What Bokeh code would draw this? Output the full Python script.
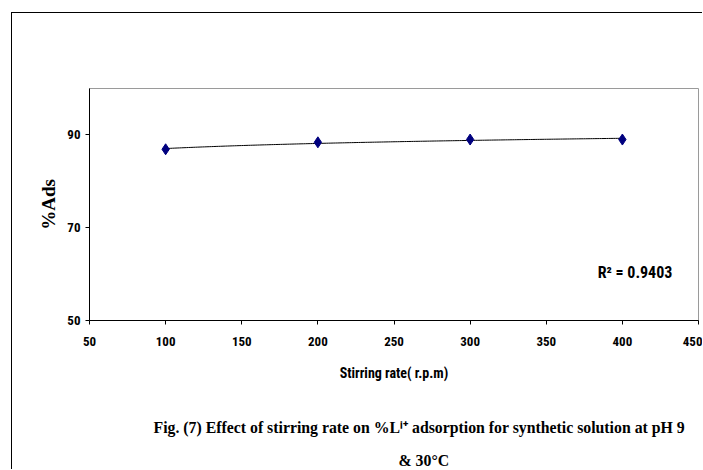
import numpy as np
from bokeh.plotting import figure
from bokeh.models import FixedTicker, Label, Title, LinearAxis
from bokeh.embed import file_html
from bokeh.resources import INLINE

# data
rpm = [100, 200, 300, 400]
ads = [86.9, 88.4, 89.0, 89.0]
x_ticks = [50, 100, 150, 200, 250, 300, 350, 400, 450]
y_ticks = [50, 70, 90]
r2_text = "R\u00b2 = 0.9403"
x_title = "Stirring rate( r.p.m)"
y_title = "%Ads"
caption1 = "Fig. (7) Effect of stirring rate  on %L\u2071\u207a adsorption for synthetic solution at pH 9"
caption2 = "& 30\u00b0C"

NARROW = "Liberation Sans Narrow, Arial Narrow, Roboto Condensed, Liberation Sans, sans-serif"
SERIF = "Liberation Serif, Times New Roman, serif"

p = figure(width=691, height=457, x_range=(50, 450), y_range=(50, 100),
           output_backend="svg", toolbar_location=None,
           min_border_left=77, min_border_right=5, min_border_top=75, min_border_bottom=148)
p.styles = {"margin-left": "11px", "margin-top": "12px",
            "border-left": "1px solid #000", "border-top": "1px solid #000"}

p.grid.visible = False
p.outline_line_color = "#9a9a9a"
p.outline_line_width = 1
p.background_fill_color = "white"
p.border_fill_color = "white"

for ax in (p.xaxis[0], p.yaxis[0]):
    ax.axis_line_color = "black"
    ax.axis_line_width = 1
    ax.major_tick_line_color = "black"
    ax.major_tick_in = 0
    ax.major_tick_out = 4
    ax.minor_tick_line_color = None
    ax.major_label_text_font = NARROW
    ax.major_label_text_font_style = "bold"
    ax.major_label_text_font_size = "13px"
    ax.major_label_text_color = "black"

p.xaxis[0].ticker = FixedTicker(ticks=x_ticks)
p.yaxis[0].ticker = FixedTicker(ticks=y_ticks)
p.xaxis[0].major_label_standoff = 12
p.yaxis[0].major_label_standoff = 5

p.xaxis[0].axis_label = x_title
p.xaxis[0].axis_label_text_font = NARROW
p.xaxis[0].axis_label_text_font_style = "bold"
p.xaxis[0].axis_label_text_font_size = "14px"
p.xaxis[0].axis_label_text_color = "black"
p.xaxis[0].axis_label_standoff = 16

p.yaxis[0].axis_label = y_title
p.yaxis[0].axis_label_text_font = SERIF
p.yaxis[0].axis_label_text_font_style = "bold"
p.yaxis[0].axis_label_text_font_size = "19px"
p.yaxis[0].axis_label_text_color = "black"
p.yaxis[0].axis_label_standoff = 5

# unlabelled axis used only as vertical spacing between the axis title and the caption
spacer = LinearAxis(ticker=FixedTicker(ticks=[x_ticks[-1]]), axis_line_color=None,
                    major_tick_line_color="white", minor_tick_line_color=None,
                    major_label_text_color=None,
                    major_tick_in=0, major_tick_out=21, major_label_standoff=0)
p.add_layout(spacer, "below")

# logarithmic trend line fitted to the data
lx = np.log(np.array(rpm, dtype=float))
b, a = np.polyfit(lx, np.array(ads), 1)
xs = np.linspace(rpm[0], rpm[-1], 200)
p.line(xs, a + b * np.log(xs), line_color="black", line_width=1)

p.scatter(rpm, ads, marker="diamond", size=11, fill_color="#00007f", line_color="#00007f")

p.add_layout(Label(x=408.3, y=60.3, text=r2_text, text_align="center", text_baseline="middle",
                   text_font=NARROW, text_font_style="bold", text_font_size="16px",
                   text_color="black"))

cap1 = Title(text=caption1, align="left", offset=64, standoff=24, vertical_align="bottom",
             text_font=SERIF, text_font_style="bold", text_font_size="15.8px", text_color="black")
cap2 = Title(text=caption2, align="left", offset=309, standoff=4, vertical_align="bottom",
             text_font=SERIF, text_font_style="bold", text_font_size="15.8px", text_color="black")
p.add_layout(cap1, "below")
p.add_layout(cap2, "below")

open("out.html", "w").write(file_html(p, INLINE))
